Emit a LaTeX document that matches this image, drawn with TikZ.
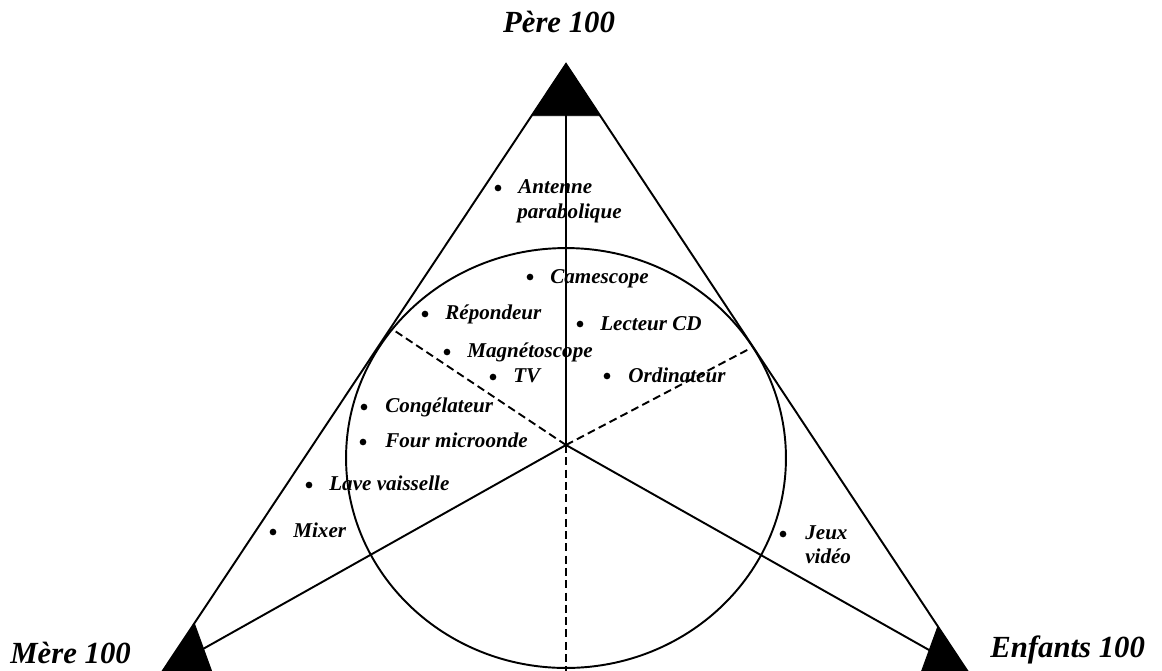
\documentclass[tikz,border=0pt]{standalone}
\usepackage{fontspec}
\setmainfont{Liberation Serif}
\usetikzlibrary{calc}
\begin{document}
\begin{tikzpicture}[x=0.02cm,y=-0.02cm,
  side/.style={line width=1.1pt},
  split/.style={line width=1.1pt, dash pattern=on 4.5pt off 2.5pt},
  corner/.style={fill=black, draw=black, line width=0.5pt},
  item/.style={anchor=base west, inner sep=0pt, font=\fontsize{12}{14}\selectfont\bfseries\itshape},
  pole/.style={inner sep=0pt, font=\fontsize{17.5}{20}\selectfont\bfseries\itshape},
  dot/.style={circle, fill=black, inner sep=0pt, minimum size=3.8pt}]
\useasboundingbox (0,0) rectangle (1162,670);
% vertices of the triangle and the inner point
\coordinate (A) at (566,64);
\coordinate (B) at (162,672);
\coordinate (C) at (968,672);
\coordinate (O) at (566,445);
% feet of the dashed separators
\coordinate (L) at (392,329);
\coordinate (R) at (751,348);
\coordinate (D) at (566,672);

% circle
\draw[side] (566,458) ellipse [x radius=4.4cm, y radius=4.2cm];

% triangle
\draw[side] (A) -- (B) -- (C) -- cycle;
% solid rays to the vertices
\draw[side] (A) -- (O);
\draw[side] (O) -- (B);
\draw[side] (O) -- (C);
% dashed separators
\draw[split] (O) -- (L);
\draw[split] (O) -- (R);
\draw[split] (O) -- (D);

% black corners
\fill[corner] (A) -- ($(A)!0.085!(B)$) -- ($(A)!0.085!(C)$) -- cycle;
\fill[corner] (B) -- ($(B)!0.08!(A)$) -- ($(B)!0.062!(C)$) -- cycle;
\fill[corner] (C) -- ($(C)!0.075!(A)$) -- ($(C)!0.058!(B)$) -- cycle;

% pole labels
\node[pole, anchor=base] (pere) at (559,32) {Père 100};
\node[pole, anchor=base west] (mere) at (10,663) {Mère 100};
\node[pole, anchor=base west] (enf) at (990,657) {Enfants 100};

% items
\node[dot] (d1) at (498,188) {};
\node[item] (t1) at (518,193) {Antenne};
\node[item] (t1b) at (517,218) {parabolique};
\node[dot] (d2) at (530,277) {};
\node[item] (t2) at (550,283) {Camescope};
\node[dot] (d3) at (425,314) {};
\node[item] (t3) at (445,319) {Répondeur};
\node[dot] (d4) at (580,324) {};
\node[item] (t4) at (600,330) {Lecteur CD};
\node[dot] (d5) at (447,352) {};
\node[item] (t5) at (467,357) {Magnétoscope};
\node[dot] (d6) at (493,377) {};
\node[item] (t6) at (513,382) {TV};
\node[dot] (d7) at (607,376) {};
\node[item] (t7) at (628,382) {Ordinateur};
\node[dot] (d8) at (364,407) {};
\node[item] (t8) at (385,412) {Congélateur};
\node[dot] (d9) at (363,442) {};
\node[item] (t9) at (385,447) {Four microonde};
\node[dot] (d10) at (309,485) {};
\node[item] (t10) at (329,490) {Lave vaisselle};
\node[dot] (d11) at (273,532) {};
\node[item] (t11) at (293,537) {Mixer};
\node[dot] (d12) at (783,534) {};
\node[item] (t12) at (805,539) {Jeux};
\node[item] (t12b) at (805,563) {vidéo};
\end{tikzpicture}
\end{document}
